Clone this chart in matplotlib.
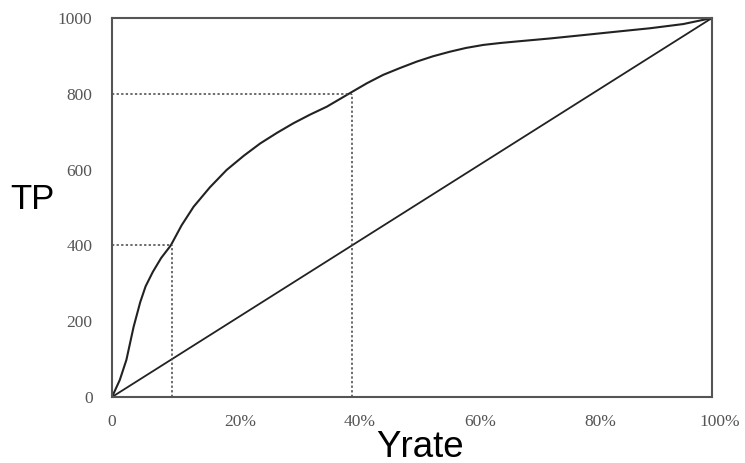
import matplotlib.pyplot as plt
from matplotlib.transforms import ScaledTranslation

# curve: Yrate (%) vs TP
yrate = [0, 1.3, 2.4, 3.6, 4.7, 5.6, 6.8, 8.2, 9.8, 11.6, 13.6, 16.3, 19.1,
         22, 24.7, 27.5, 30.2, 33, 35.8, 40, 42.5, 45.2, 48, 50.8, 53.5,
         56.3, 59, 61.9, 64.7, 67.4, 73, 78.6, 84.1, 89.7, 95.2, 100]
tp = [0, 45, 98, 185, 250, 292, 330, 367, 400, 453, 502, 553, 599,
      637, 669, 697, 722, 745, 766, 805, 828, 850, 868, 885, 899,
      911, 921, 929, 934, 938, 946, 955, 964, 973, 984, 1000]

# random baseline
base_x = [0, 100]
base_y = [0, 1000]

# guide lines
guide_x = [10, 40]
guide_y = [400, 800]

xticks = [0, 20, 40, 60, 80, 100]
xtick_labels = ["0", "20%", "40%", "60%", "80%", "100%"]
yticks = [0, 200, 400, 600, 800, 1000]

fig = plt.figure(figsize=(7.45, 4.63), dpi=100)
ax = fig.add_axes([112/745, 66/463, 600/745, 379/463])

ax.plot(yrate, tp, color="#222222", lw=1.5)
ax.plot(base_x, base_y, color="#222222", lw=1.3, marker="o", ms=2.5)
for gx, gy in zip(guide_x, guide_y):
    ax.plot([0, gx], [gy, gy], color="#444444", lw=1.1, ls=(0, (1.5, 1.5)))
    ax.plot([gx, gx], [0, gy], color="#444444", lw=1.1, ls=(0, (1.5, 1.5)))

ax.set_xlim(0, 100); ax.set_ylim(0, 1000)
ax.set_xticks(xticks); ax.set_xticklabels(xtick_labels)
ax.set_yticks(yticks)
for s in ax.spines.values():
    s.set_color("#555555"); s.set_linewidth(1.5)
ax.tick_params(length=0, labelsize=12.5, labelcolor="#555555")
ax.tick_params(axis="x", pad=12)
ax.tick_params(axis="y", pad=14)
for lab in ax.get_xticklabels() + ax.get_yticklabels():
    lab.set_family("Liberation Serif")
# percent labels sit a little right of their ticks in the original
shift = ScaledTranslation(8/100, 0, fig.dpi_scale_trans)
for lab in ax.get_xticklabels()[1:]:
    lab.set_transform(lab.get_transform() + shift)

ax.set_xlabel("Yrate", fontsize=26.5, family="Liberation Sans", va="center")
ax.set_ylabel("TP", fontsize=25, family="Liberation Sans", rotation=0,
              va="center", ha="center")
ax.yaxis.set_label_coords(-0.132, 0.52)
ax.xaxis.set_label_coords(0.513, -0.132)

fig.savefig("out.png", dpi=100)
